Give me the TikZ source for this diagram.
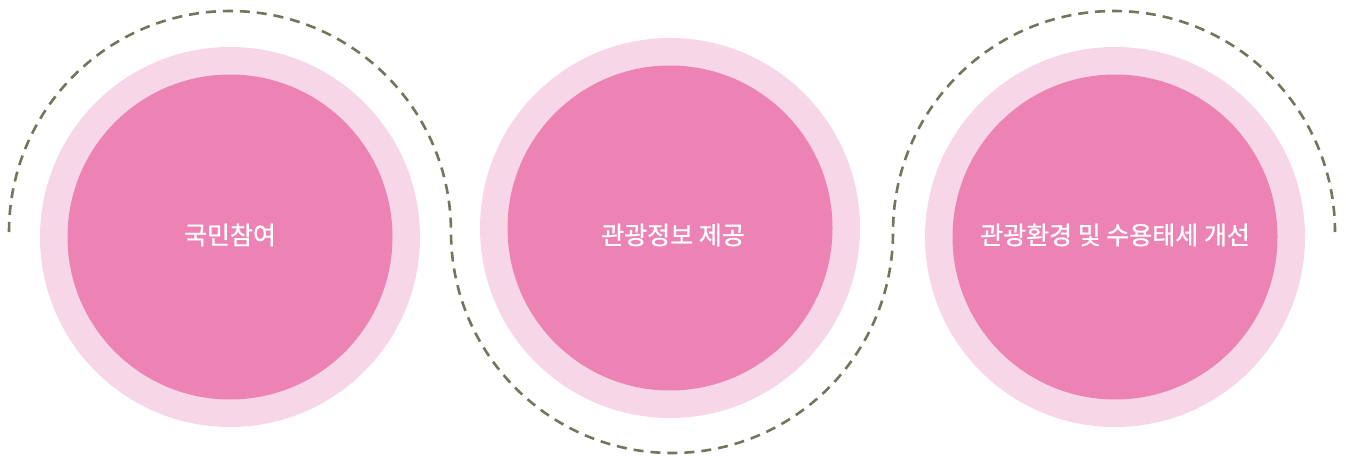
\documentclass[tikz,border=0pt]{standalone}
\usepackage{fontspec}
\newfontfamily\kr[FakeBold=0.8]{Noto Sans CJK KR}
\definecolor{ringpink}{HTML}{F7D7E7}
\definecolor{corepink}{HTML}{EC83B4}
\definecolor{dashcol}{HTML}{77745E}
\begin{document}
\begin{tikzpicture}[x=1pt,y=-1pt,
  ring/.style={circle,fill=ringpink,inner sep=0pt,minimum size=380pt},
  core/.style={circle,fill=corepink,inner sep=0pt,minimum size=325pt},
  label/.style={text=white,font=\kr\fontsize{25}{29}\selectfont,inner sep=0pt,anchor=center},
  path dash/.style={draw=dashcol,line width=2.6pt,dash pattern=on 10pt off 7pt}]
\useasboundingbox (0,0) rectangle (1346,455);
\node[ring] (r1) at (230,237) {};
\node[core] (c1) at (230,237) {};
\node[ring] (r2) at (670,228) {};
\node[core] (c2) at (670,228) {};
\node[ring] (r3) at (1115,237) {};
\node[core] (c3) at (1115,237) {};
\node[label] (t1) at (230,235) {국민참여};
\node[label] (t2) at (673,235) {관광정보 제공};
\node[label] (t3) at (1115,235) {관광환경 및 수용태세 개선};
\coordinate (s) at (9,232);
\draw[path dash] (s) arc(180:360:221) arc(180:0:221) arc(180:360:221);
\end{tikzpicture}
\end{document}
